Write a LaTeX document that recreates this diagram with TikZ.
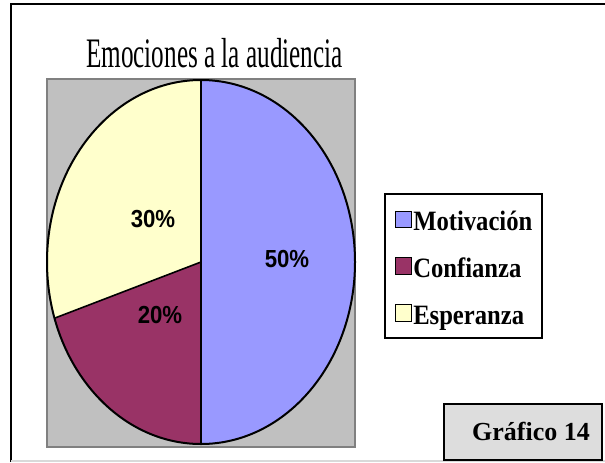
\documentclass[tikz,border=0pt]{standalone}
\usepackage{fontspec}
\setmainfont{Liberation Serif}
\newfontfamily\arialfont{Liberation Sans}
\usepackage{graphicx}
\usetikzlibrary{positioning}

\definecolor{motiv}{HTML}{9999FF}
\definecolor{confi}{HTML}{993366}
\definecolor{esper}{HTML}{FFFFCC}
\definecolor{plotgray}{HTML}{C0C0C0}
\definecolor{plotedge}{HTML}{808080}
\definecolor{tagfill}{HTML}{DDDDDD}

\newcommand{\titlefont}{\fontsize{31.5}{33}\selectfont}
\newcommand{\legfont}{\fontsize{21}{23}\selectfont\bfseries}
\newcommand{\pctfont}{\arialfont\fontsize{18.5}{20}\selectfont\bfseries}

\begin{document}
\begin{tikzpicture}[
x=0.75pt, y=0.75pt,
pct/.style={font=\pctfont, inner sep=0pt},
legbox/.style={draw=black, line width=0.8pt, minimum size=12.5pt, inner sep=0pt},
legtext/.style={font=\legfont, inner sep=0pt, anchor=base west}
]
    \useasboundingbox (0,0) rectangle (605,462);

    % outer frame
    \draw[line width=1.5pt] (11,0) -- (11,458) -- (605,458);
    \draw[black!15, line width=0.8pt] (11,1) -- (605,1);

    % plot area
    \filldraw[fill=plotgray, draw=plotedge, line width=1.5pt] (47,15) rectangle (355,383);

    \coordinate (c) at (201,200);
    \coordinate (top) at (201,382);
    \coordinate (bot) at (201,18);
    \coordinate (cut) at (54.5,143.8);

    \fill[motiv] (c) -- (top) arc[start angle=90, end angle=-90, x radius=154, y radius=182] -- cycle;
    \fill[confi] (c) -- (bot) arc[start angle=270, end angle=198, x radius=154, y radius=182] -- cycle;
    \fill[esper] (c) -- (cut) arc[start angle=198, end angle=90, x radius=154, y radius=182] -- cycle;

    \draw[line width=1.2pt] (top) -- (bot);
    \draw[line width=1.2pt] (c) -- (cut);
    \draw[line width=1.5pt] (c) ellipse[x radius=154, y radius=182];

    \node[pct] (p50) at (287,203) {\scalebox{0.9}[1]{50\%}};
    \node[pct] (p30) at (153,243) {\scalebox{0.9}[1]{30\%}};
    \node[pct] (p20) at (160,147) {\scalebox{0.9}[1]{20\%}};

    % title
    \node[anchor=base, inner sep=0pt, font=\titlefont] (title) at (214.5,395)
        {\scalebox{0.6}[1]{Emociones a la audiencia}};

    % legend
    \draw[line width=1pt, fill=white] (385,124) rectangle (542,268);
    \node[legbox, fill=motiv] (kmot) at (403.5,242.5) {};
    \node[legbox, fill=confi] (kcon) at (403.5,196) {};
    \node[legbox, fill=esper] (kesp) at (403.5,149) {};
    \node[legtext] (tmot) at (413,232) {\scalebox{0.88}[1]{Motivación}};
    \node[legtext] (tcon) at (413,185) {\scalebox{0.88}[1]{Confianza}};
    \node[legtext] (tesp) at (413,138) {\scalebox{0.88}[1]{Esperanza}};

    % tag
    \filldraw[fill=tagfill, draw=black, line width=1pt] (444,2) rectangle (602,58);
    \node[anchor=base, inner sep=0pt, font=\fontsize{19.5}{21}\selectfont\bfseries] (tag) at (531,22) {Gráfico 14};

\end{tikzpicture}
\end{document}
